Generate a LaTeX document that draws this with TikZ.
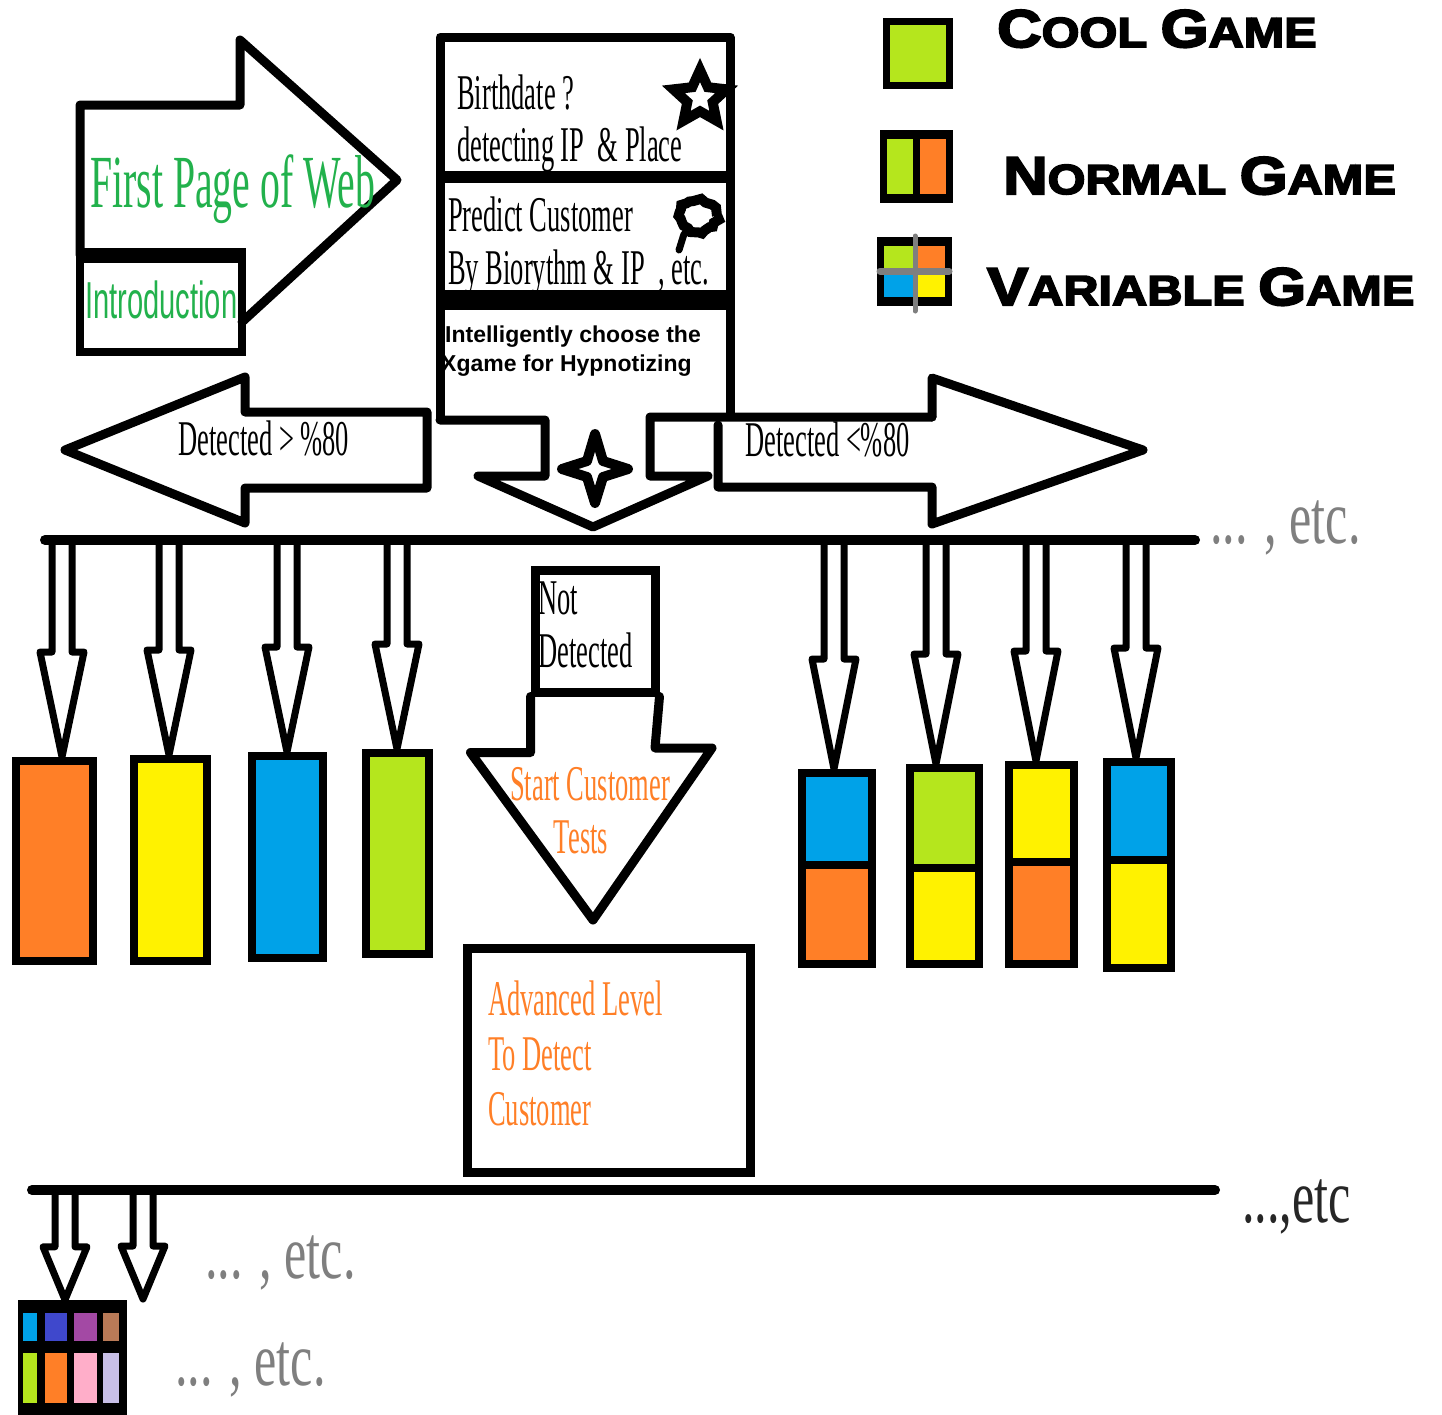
\documentclass[tikz,border=0pt]{standalone}
\usepackage{fontspec}
\setmainfont{Liberation Serif}
\newfontfamily\condserif[FakeStretch=0.53]{Liberation Serif}
\newfontfamily\etcserif[FakeStretch=0.66]{Liberation Serif}
\newfontfamily\condsans[FakeStretch=0.56]{Liberation Sans}
\newfontfamily\boldsans{Liberation Sans}
\newfontfamily\legendfont[FakeBold=4,FakeStretch=1.16]{Liberation Sans}
\usepackage{tikz}
\usetikzlibrary{calc,positioning,shapes.geometric,decorations.pathmorphing}
\usepackage{xcolor}
\definecolor{PaintOrange}{HTML}{FF7F27}
\definecolor{PaintYellow}{HTML}{FFF200}
\definecolor{PaintBlue}{HTML}{00A2E8}
\definecolor{PaintLime}{HTML}{B5E61D}
\definecolor{PaintGreen}{HTML}{22B14C}
\definecolor{PaintIndigo}{HTML}{3F48CC}
\definecolor{PaintPurple}{HTML}{A349A4}
\definecolor{PaintBrown}{HTML}{B97A57}
\definecolor{PaintPink}{HTML}{FFAEC9}
\definecolor{PaintLavender}{HTML}{C8BFE7}
\definecolor{EtcGray}{HTML}{7F7F7F}

% hollow block arrow: start on the bar, tip, head length
\newcommand{\hollowdown}[3]{%
  \draw[hollow] let \p1=#1, \p2=#2 in
    (\x2-10pt,\y1) -- (\x2-10pt,\y2+#3) -- (\x2-22pt,\y2+#3) -- (\x2,\y2)
    -- (\x2+22pt,\y2+#3) -- (\x2+10pt,\y2+#3) -- (\x2+10pt,\y1);}
\newcommand{\scbig}[1]{{\fontsize{53}{53}\selectfont #1}}

\begin{document}
\begin{tikzpicture}[x=1pt,y=-1pt,
  txt/.style={anchor=base west,inner sep=0pt},
  serif/.style={font=\condserif\fontsize{50}{50}\selectfont},
  etc/.style={txt,font=\etcserif\fontsize{76}{76}\selectfont,text=EtcGray},
  legend/.style={txt,font=\legendfont\bfseries\fontsize{42}{42}\selectfont},
  gamebox/.style={draw,line width=8pt,inner sep=0pt},
  hollow/.style={line width=7pt,line join=round,line cap=round,fill=white},
  outline/.style={line width=9pt,line join=round,line cap=round},
  bar/.style={line width=10pt,line cap=round}]
\pgfmathsetseed{7}
\useasboundingbox (0,0) rectangle (1442,1414);

% first page arrow
\draw[outline] (80,255) -- (80,105) -- (240,105) -- (240,40) -- (397,180) -- (242,322);
\draw[line width=8pt] (80,255) rectangle (242,352);
\draw[line width=15pt] (76,255) -- (246,255);
\node[txt,font=\condserif\fontsize{75}{75}\selectfont,text=PaintGreen] (web) at (90,207) {First Page of Web};
\node[txt,font=\condsans\fontsize{52}{52}\selectfont,text=PaintGreen] (intro) at (85,318) {Introduction};

% detection box
\draw[line width=9pt,line join=round] (440,420) -- (440,37) -- (730,37) -- (730,417);
\draw[line width=12pt] (440,177) -- (730,177);
\draw[line width=20pt] (440,300) -- (730,300);
\draw[outline] (440,420) -- (545,420) -- (545,476) -- (478,476) -- (593,527) -- (708,476)
  -- (650,476) -- (650,417) -- (932,417);
\node[txt,serif] (birth) at (457,109) {Birthdate ?};
\node[txt,serif] (place) at (457,161) {detecting IP \ \& Place};
\node[txt,serif] (predict) at (448,231) {Predict Customer};
\node[txt,serif] (bio) at (448,284) {By Biorythm \& IP \ , etc.};
\node[txt,font=\boldsans\bfseries\fontsize{23}{23}\selectfont] (xg1) at (445,342) {Intelligently choose the};
\node[txt,font=\boldsans\bfseries\fontsize{23}{23}\selectfont] (xg2) at (441,371) {Xgame for Hypnotizing};
\node[star,star points=5,star point ratio=2.1,draw,line width=10pt,fill=white,minimum size=56pt,inner sep=0pt] (star5) at (700,98) {};
\draw[line width=10pt,decorate,decoration={random steps,segment length=4pt,amplitude=2pt}] (698,216) ellipse (19pt and 16pt);
\draw[line width=7pt,line cap=round] (684,234) -- (679,250);
\draw[line width=10pt,fill=white,line join=round] (595,434) -- (603,461) -- (628,469) -- (603,477)
  -- (595,503) -- (587,477) -- (562,469) -- (587,461) -- cycle;

% side arrows
\draw[outline] (427,412) -- (245,412) -- (245,377) -- (65,450) -- (245,523) -- (245,488) -- (427,488) -- cycle;
\node[txt,serif] (dgt) at (178,455) {Detected > \%80};
\draw[outline] (932,417) -- (932,378) -- (1143,450) -- (932,524) -- (932,487) -- (718,487) -- (718,425);
\node[txt,serif] (dlt) at (745,456) {Detected <\%80};

% first bar
\coordinate (barL) at (45,540);
\coordinate (barR) at (1195,540);
\node[etc] (etc1) at (1210,543) {... , etc.};
\coordinate (a1) at (62,545);
\coordinate (a2) at (169,545);
\coordinate (a3) at (287,545);
\coordinate (a4) at (397,545);
\coordinate (a5) at (834,545);
\coordinate (a6) at (936,545);
\coordinate (a7) at (1036,545);
\coordinate (a8) at (1136,545);

% cool games
\node[gamebox,fill=PaintOrange,minimum width=77pt,minimum height=200pt] (o1) at (54.5,861) {};
\node[gamebox,fill=PaintYellow,minimum width=73pt,minimum height=202pt] (y1) at (170.5,860) {};
\node[gamebox,fill=PaintBlue,minimum width=71pt,minimum height=202pt] (b1) at (287.5,857) {};
\node[gamebox,fill=PaintLime,minimum width=63pt,minimum height=201pt] (g1) at (397.5,853.5) {};

% normal games
\node[gamebox,fill=PaintBlue,minimum width=70pt,minimum height=92pt] (r1t) at (837,819) {};
\node[gamebox,fill=PaintOrange,minimum width=70pt,minimum height=99pt] (r1b) at (837,914.5) {};
\node[gamebox,fill=PaintLime,minimum width=69pt,minimum height=100pt] (r2t) at (944.5,818) {};
\node[gamebox,fill=PaintYellow,minimum width=69pt,minimum height=96pt] (r2b) at (944.5,916) {};
\node[gamebox,fill=PaintYellow,minimum width=65pt,minimum height=97pt] (r3t) at (1041.5,813.5) {};
\node[gamebox,fill=PaintOrange,minimum width=65pt,minimum height=102pt] (r3b) at (1041.5,913) {};
\node[gamebox,fill=PaintBlue,minimum width=64pt,minimum height=98pt] (r4t) at (1139,811) {};
\node[gamebox,fill=PaintYellow,minimum width=64pt,minimum height=108pt] (r4b) at (1139,914) {};

\hollowdown{(a1)}{(a1 |- o1.north)}{105pt}
\hollowdown{(a2)}{(a2 |- y1.north)}{105pt}
\hollowdown{(a3)}{(a3 |- b1.north)}{105pt}
\hollowdown{(a4)}{(a4 |- g1.north)}{105pt}
\hollowdown{(a5)}{(a5 |- r1t.north)}{110pt}
\hollowdown{(a6)}{(a6 |- r2t.north)}{110pt}
\hollowdown{(a7)}{(a7 |- r3t.north)}{110pt}
\hollowdown{(a8)}{(a8 |- r4t.north)}{110pt}
\draw[bar] (barL) -- (barR);

% not detected
\node[draw,line width=9pt,minimum width=120pt,minimum height=122pt,inner sep=0pt] (notdet) at (595,631) {};
\node[txt,serif] (not1) at (538,614) {Not};
\node[txt,serif] (not2) at (538,667) {Detected};
\draw[outline] (notdet.south west) -- ++(0,56) -- ++(-60,0) -- (593,920) -- (712,748) -- (655,748) -- (notdet.south east);
\node[anchor=base,inner sep=0pt,serif,text=PaintOrange] (start1) at (590,800) {Start Customer};
\node[anchor=base,inner sep=0pt,serif,text=PaintOrange] (start2) at (581,853) {Tests};

% advanced level
\node[draw,line width=9pt,minimum width=283pt,minimum height=224pt,inner sep=0pt] (adv) at (608.5,1060) {};
\node[txt,serif,text=PaintOrange] (adv1) at (488,1015) {Advanced Level};
\node[txt,serif,text=PaintOrange] (adv2) at (488,1070) {To Detect};
\node[txt,serif,text=PaintOrange] (adv3) at (488,1125) {Customer};

% second bar
\coordinate (bar2L) at (32,1190);
\coordinate (bar2R) at (1215,1190);
\node[etc,text=black!85] (etc2) at (1242,1222) {...,etc};
\node[fill=black,minimum width=109pt,minimum height=130pt,inner sep=0pt] (multi) at (72.5,1365) {};
\fill[PaintBlue] (23,1313) rectangle (37,1341);
\fill[PaintIndigo] (45,1313) rectangle (67,1341);
\fill[PaintPurple] (74,1313) rectangle (97,1341);
\fill[PaintBrown] (103,1313) rectangle (119,1341);
\fill[PaintLime] (23,1353) rectangle (37,1403);
\fill[PaintOrange] (45,1353) rectangle (67,1403);
\fill[PaintPink] (74,1353) rectangle (97,1403);
\fill[PaintLavender] (103,1353) rectangle (119,1403);
\coordinate (c1) at (65,1195);
\coordinate (c2) at (143,1195);
\coordinate (c2end) at (143,1299);
\hollowdown{(c1)}{(c1 |- multi.north)}{53pt}
\hollowdown{(c2)}{(c2end)}{53pt}
\draw[bar] (bar2L) -- (bar2R);
\node[etc] (etc3) at (205,1278) {... , etc.};
\node[etc] (etc4) at (175,1385) {... , etc.};

% legend
\filldraw[draw=black,line width=7pt,fill=PaintLime] (886,21) rectangle (949,85);
\fill[black] (880,130) rectangle (953,203);
\fill[PaintLime] (887,139) rectangle (913,194);
\fill[PaintOrange] (920,139) rectangle (946,194);
\fill[black] (877,237) rectangle (952,306);
\fill[PaintLime] (884,246) rectangle (914,270);
\fill[PaintOrange] (916,246) rectangle (945,270);
\fill[PaintBlue] (884,274) rectangle (914,297);
\fill[PaintYellow] (916,274) rectangle (945,297);
\draw[EtcGray,line width=5pt,line cap=round] (915,236) -- (915,311);
\draw[EtcGray,line width=7pt,line cap=round] (880,271) -- (949,271);
\node[legend] (cool) at (997,47) {\scbig{C}OOL \scbig{G}AME};
\node[legend] (normal) at (1003,194) {\scbig{N}ORMAL \scbig{G}AME};
\node[legend] (variable) at (987,305) {\scbig{V}ARIABLE \scbig{G}AME};
\end{tikzpicture}
\end{document}
